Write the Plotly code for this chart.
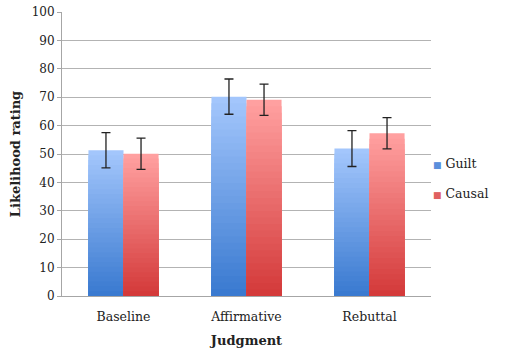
import plotly.graph_objects as go

categories = ["Baseline", "Affirmative", "Rebuttal"]
guilt = [51.3, 70.2, 51.9]
guilt_err = [6.2, 6.2, 6.3]
causal = [50.1, 69.1, 57.3]
causal_err = [5.5, 5.5, 5.5]
y_ticks = [0, 10, 20, 30, 40, 50, 60, 70, 80, 90, 100]

FONT = "DejaVu Serif"
N = 30
BW = 0.285

def lerp(c1, c2, t):
    return "rgb(%d,%d,%d)" % tuple(round(a + (b - a) * t) for a, b in zip(c1, c2))

series = [
    ("Guilt", guilt, guilt_err, (163, 198, 252), (58, 122, 208), -BW, "#5b8fdc"),
    ("Causal", causal, causal_err, (255, 160, 160), (212, 58, 58), 0.0, "#e06060"),
]

fig = go.Figure()
for name, vals, errs, top, bot, off, lc in series:
    for k in range(N):
        frac = (N - k) / N
        fig.add_trace(go.Bar(
            x=categories, y=[v * frac for v in vals],
            marker=dict(color=lerp(top, bot, k / (N - 1)), line=dict(width=0)),
            width=BW, offset=off, name=name,
            showlegend=False, hoverinfo="skip",
        ))
for name, vals, errs, top, bot, off, lc in series:
    fig.add_trace(go.Bar(
        x=categories, y=vals, width=BW, offset=off, name=name,
        marker=dict(color="rgba(0,0,0,0)", line=dict(width=0)),
        showlegend=False,
        error_y=dict(type="data", array=errs, visible=True,
                     color="#222222", thickness=1.3, width=4.5),
    ))

# legend drawn as annotations (small squares close to text, as in reference)
for i, (name, vals, errs, top, bot, off, lc) in enumerate(series):
    fig.add_annotation(
        xref="paper", yref="paper", x=1.0, y=0.466 - i * 0.106,
        xanchor="left", yanchor="middle", showarrow=False,
        text="<span style='color:%s;font-size:9px'>■</span> %s" % (lc, name),
        font=dict(family=FONT, size=12.5, color="#222222"),
    )

fig.update_layout(
    width=523, height=357,
    margin=dict(l=62, r=92, t=12, b=61, autoexpand=False),
    barmode="overlay",
    plot_bgcolor="white", paper_bgcolor="white",
    font=dict(family=FONT, size=12, color="#222222"),
    showlegend=False,
    xaxis=dict(
        title=dict(text="<b>Judgment</b>", font=dict(family=FONT, size=13), standoff=12),
        showline=True, linecolor="#a6a6a6", linewidth=1,
        ticks="", tickfont=dict(family=FONT, size=12.5),
        ticklabelstandoff=9,
        range=[-0.5, 2.5],
    ),
    yaxis=dict(
        title=dict(text="<b>Likelihood rating</b>", font=dict(family=FONT, size=13), standoff=8),
        range=[0, 100], tickvals=y_ticks,
        showline=True, linecolor="#a6a6a6", linewidth=1,
        ticks="outside", ticklen=4, tickcolor="#a6a6a6",
        showgrid=True, gridcolor="#b3b3b3", gridwidth=1,
        tickfont=dict(family=FONT, size=12),
        zeroline=False,
    ),
)

fig.write_html("out.html")
